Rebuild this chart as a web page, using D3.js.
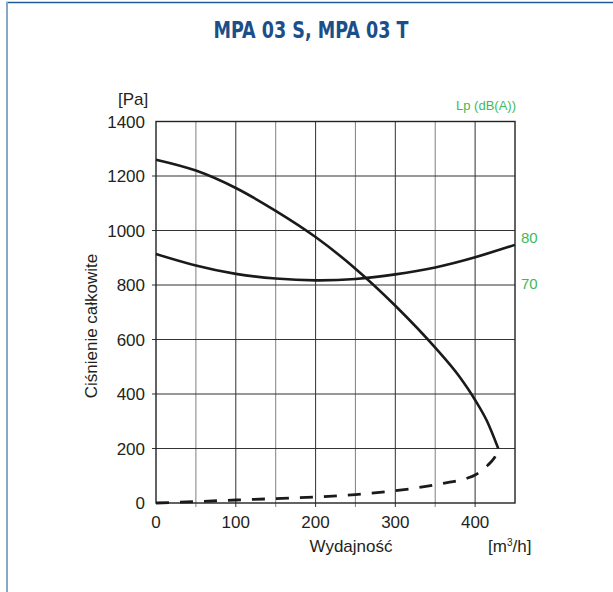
<!DOCTYPE html>
<html>
<head>
<meta charset="utf-8">
<script src="https://cdn.jsdelivr.net/npm/d3@7"></script>
<style>
  body { margin: 0; background: #fff; }
  text { font-family: "Liberation Sans", Arial, sans-serif; fill: #231f20; }
</style>
</head>
<body>
<svg id="chart" width="613" height="592"></svg>
<script>
// values
const xTicks = [0, 100, 200, 300, 400];
const yTicks = [0, 200, 400, 600, 800, 1000, 1200, 1400];
const lpTicks = [70, 80];

const pressureFlow = [0, 50, 100, 150, 200, 250, 300, 350, 380, 400, 415, 429];
const pressure = [1260, 1220, 1156, 1072, 976, 860, 724, 570, 465, 378, 300, 200];

const lpFlow = [0, 50, 100, 150, 200, 250, 300, 350, 400, 450];
const lp = [76.3, 73.8, 72.0, 71.0, 70.6, 70.9, 71.9, 73.4, 75.6, 78.3];

const dashFlow = [0, 50, 100, 150, 200, 250, 300, 330, 360, 390, 400, 416, 424, 428];
const dashValue = [0, 5, 11, 16, 22, 31, 45, 57, 72, 91, 103, 139, 165, 185];

const svg = d3.select("#chart");

// frame
svg.append("line").attr("x1", 6).attr("y1", 2.5).attr("x2", 613).attr("y2", 2.5)
    .attr("stroke", "#1f5b99").attr("stroke-width", 1.6);
svg.append("line").attr("x1", 7).attr("y1", 2).attr("x2", 7).attr("y2", 592)
    .attr("stroke", "#89a8c6").attr("stroke-width", 2);

svg.append("text")
    .attr("x", 311).attr("y", 38)
    .attr("text-anchor", "middle")
    .attr("textLength", 195)
    .attr("lengthAdjust", "spacingAndGlyphs")
    .style("font-family", "'Liberation Sans Narrow', 'DejaVu Sans Condensed', sans-serif")
    .style("font-weight", "bold")
    .style("font-size", "23px")
    .style("fill", "#1a4f8a")
    .text("MPA 03 S, MPA 03 T");

const x = d3.scaleLinear().domain([0, 450]).range([156, 515]);
const y = d3.scaleLinear().domain([0, 1400]).range([503, 121.5]);
const yLp = d3.scaleLinear().domain([70, 80]).range([y(807), y(976)]);

// grid
const g = svg.append("g");
g.selectAll(".vgrid").data(d3.range(50, 450, 50)).join("line")
    .attr("x1", d => x(d)).attr("x2", d => x(d))
    .attr("y1", y(1400)).attr("y2", y(0) + 4)
    .attr("stroke", d => d % 100 === 0 ? "#444" : "#8c8c8c")
    .attr("stroke-width", 1.1);
g.selectAll(".hgrid").data(yTicks.slice(1, -1)).join("line")
    .attr("x1", x(0) - 4).attr("x2", x(450))
    .attr("y1", d => y(d)).attr("y2", d => y(d))
    .attr("stroke", "#333").attr("stroke-width", 1.1);
g.append("rect")
    .attr("x", x(0)).attr("y", y(1400))
    .attr("width", x(450) - x(0)).attr("height", y(0) - y(1400))
    .attr("fill", "none").attr("stroke", "#222").attr("stroke-width", 1.4);

// tick labels
g.selectAll(".ylab").data(yTicks).join("text")
    .attr("x", 145).attr("y", d => y(d) + 6)
    .attr("text-anchor", "end")
    .style("font-size", "17px")
    .text(d => d);
g.selectAll(".xlab").data(xTicks).join("text")
    .attr("x", d => x(d)).attr("y", 528)
    .attr("text-anchor", "middle")
    .style("font-size", "17px")
    .text(d => d);
g.selectAll(".lplab").data(lpTicks).join("text")
    .attr("x", 521).attr("y", d => yLp(d) + 5.5)
    .style("font-size", "15px")
    .style("fill", "#3dba5a")
    .text(d => d);

svg.append("text").attr("x", 118).attr("y", 105).style("font-size", "17px").text("[Pa]");
svg.append("text").attr("x", 516).attr("y", 110).attr("text-anchor", "end")
    .style("font-size", "13px").style("fill", "#3dba5a").text("Lp (dB(A))");
svg.append("text")
    .attr("transform", "translate(97,326) rotate(-90)")
    .attr("text-anchor", "middle")
    .style("font-size", "17px")
    .text("Ciśnienie całkowite");
svg.append("text").attr("x", 351).attr("y", 552).attr("text-anchor", "middle")
    .style("font-size", "17px").text("Wydajność");
const unit = svg.append("text").attr("x", 488).attr("y", 552).style("font-size", "17px");
unit.append("tspan").text("[m");
unit.append("tspan").attr("dy", -6).style("font-size", "10px").text("3");
unit.append("tspan").attr("dy", 6).text("/h]");

// curves
const smooth = d3.line().curve(d3.curveNatural);
const mono = d3.line().curve(d3.curveMonotoneX);

g.append("path")
    .attr("d", mono(pressureFlow.map((q, i) => [x(q), y(pressure[i])])))
    .attr("fill", "none").attr("stroke", "#1a1a1a").attr("stroke-width", 2.6);

g.append("path")
    .attr("d", smooth(lpFlow.map((q, i) => [x(q), yLp(lp[i])])))
    .attr("fill", "none").attr("stroke", "#1a1a1a").attr("stroke-width", 2.6);

g.append("path")
    .attr("d", mono(dashFlow.map((q, i) => [x(q), y(dashValue[i])])))
    .attr("fill", "none").attr("stroke", "#1a1a1a").attr("stroke-width", 2.8)
    .attr("stroke-dasharray", "13,11");
</script>
</body>
</html>
